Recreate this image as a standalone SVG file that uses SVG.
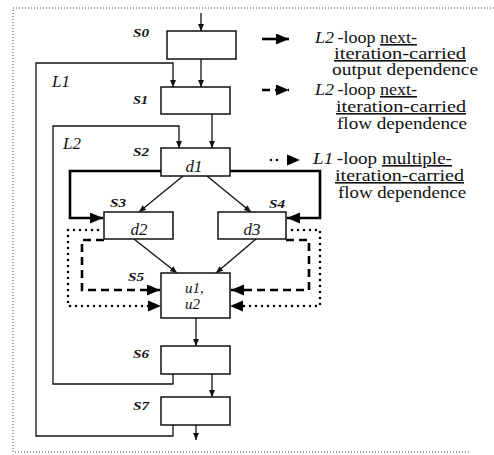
<svg xmlns="http://www.w3.org/2000/svg" width="494" height="455" viewBox="0 0 494 455">
<defs>
<style>
.box{fill:#fff;stroke:#111;stroke-width:1.5}
.thin{fill:none;stroke:#111;stroke-width:1.3}
.thick{fill:none;stroke:#000;stroke-width:2.6}
.dash{fill:none;stroke:#000;stroke-width:2.6;stroke-dasharray:8 5}
.dot{fill:none;stroke:#000;stroke-width:2.6;stroke-dasharray:0 6;stroke-linecap:round}
.lbl{font-family:"Liberation Serif",serif;font-style:italic;font-weight:bold;font-size:13px;fill:#111}
.big{font-family:"Liberation Serif",serif;font-style:italic;font-size:17px;fill:#111}
.in{font-family:"Liberation Serif",serif;font-style:italic;font-size:17px;fill:#111;text-anchor:middle}
.uu{font-family:"Liberation Serif",serif;font-style:italic;font-size:15px;fill:#111}
.leg{font-family:"Liberation Serif",serif;font-size:16px;fill:#111}
.it{font-style:italic}
.u{text-decoration:underline}
.frame{fill:none;stroke:#444;stroke-width:1;stroke-dasharray:1 2}
</style>
<marker id="ah" markerUnits="userSpaceOnUse" markerWidth="8" markerHeight="7" refX="7" refY="3" orient="auto"><path d="M0,0 L7,3 L0,6 z" fill="#111"/></marker>
<marker id="AH" markerUnits="userSpaceOnUse" markerWidth="14" markerHeight="12" refX="13" refY="5.5" orient="auto"><path d="M0,0 L13,5.5 L0,11 z" fill="#000"/></marker>
</defs>
<path class="frame" d="M494,8 H13 V452 H470"/>
<g id="connectors">
<path class="thin" d="M201,13 V31" marker-end="url(#ah)"/>
<path class="thin" d="M201,59 V87" marker-end="url(#ah)"/>
<path class="thin" d="M212,114 V148" marker-end="url(#ah)"/>
<path class="thin" d="M183,176 L139,212" marker-end="url(#ah)"/>
<path class="thin" d="M207,176 L251,212" marker-end="url(#ah)"/>
<path class="thin" d="M134,239 L177,273" marker-end="url(#ah)"/>
<path class="thin" d="M256,239 L216,273" marker-end="url(#ah)"/>
<path class="thin" d="M196,318 V346" marker-end="url(#ah)"/>
<path class="thin" d="M212,374 V397" marker-end="url(#ah)"/>
<path class="thin" d="M196,425 V440" marker-end="url(#ah)"/>
<path class="thin" d="M173,374 V384 H53 V126 H179 V148" marker-end="url(#ah)"/>
<path class="thin" d="M173,425 V436 H36 V63 H173 V87" marker-end="url(#ah)"/>
<path class="thick" d="M161,171 H70 V218 H103" marker-end="url(#AH)"/>
<path class="thick" d="M230,171 H320 V218 H287" marker-end="url(#AH)"/>
<path class="dash" d="M104,240 H82 V290 H160" marker-end="url(#AH)"/>
<path class="dash" d="M286,240 H309 V290 H231" marker-end="url(#AH)"/>
<path class="dot" d="M98,230 H68 V306 H158"/>
<path d="M148,300.5 L161,306 L148,311.5 z" fill="#000"/>
<path class="dot" d="M292,230 H320 V306 H234"/>
<path d="M243,300.5 L230,306 L243,311.5 z" fill="#000"/>
</g>
<g id="S0"><rect class="box" x="167" y="31" width="69" height="28"/><text class="lbl" x="133" y="37" textLength="16" lengthAdjust="spacingAndGlyphs">S0</text></g>
<g id="S1"><rect class="box" x="161" y="87" width="69" height="27"/><text class="lbl" x="133" y="104" textLength="15" lengthAdjust="spacingAndGlyphs">S1</text></g>
<g id="S2"><rect class="box" x="161" y="148" width="69" height="28"/><text class="lbl" x="133" y="156" textLength="16" lengthAdjust="spacingAndGlyphs">S2</text><text class="in" x="194" y="172">d1</text></g>
<g id="S3"><rect class="box" x="104" y="212" width="69" height="27"/><text class="lbl" x="110" y="207" textLength="16" lengthAdjust="spacingAndGlyphs">S3</text><text class="in" x="139" y="235">d2</text></g>
<g id="S4"><rect class="box" x="218" y="212" width="68" height="27"/><text class="lbl" x="269" y="208" textLength="16" lengthAdjust="spacingAndGlyphs">S4</text><text class="in" x="252" y="235">d3</text></g>
<g id="S5"><rect class="box" x="161" y="273" width="69" height="45"/><text class="lbl" x="128" y="281" textLength="16" lengthAdjust="spacingAndGlyphs">S5</text><text class="uu" x="185" y="293">u1,</text><text class="uu" x="185" y="309">u2</text></g>
<g id="S6"><rect class="box" x="161" y="346" width="69" height="28"/><text class="lbl" x="133" y="358" textLength="16" lengthAdjust="spacingAndGlyphs">S6</text></g>
<g id="S7"><rect class="box" x="161" y="397" width="69" height="28"/><text class="lbl" x="133" y="410" textLength="16" lengthAdjust="spacingAndGlyphs">S7</text></g>
<g id="loops"><text class="big" x="52" y="87">L1</text><text class="big" x="63" y="149">L2</text></g>
<g id="legend">
<path class="thick" d="M262,39 H289" marker-end="url(#AH)"/>
<path class="dash" d="M262,90 H289" stroke-dasharray="6 5" marker-end="url(#AH)"/>
<path class="dot" d="M271,160 H283"/>
<path d="M287,154.5 L300,160 L287,165.5 z" fill="#000"/>
<text class="leg" x="315" y="43" textLength="102" lengthAdjust="spacingAndGlyphs"><tspan class="it">L2</tspan><tspan dx="3">-loop </tspan><tspan class="u">next-</tspan></text>
<text class="leg u" x="334" y="59" textLength="132" lengthAdjust="spacingAndGlyphs">iteration-carried</text>
<text class="leg" x="332" y="75" textLength="146" lengthAdjust="spacingAndGlyphs">output dependence</text>
<text class="leg" x="315" y="95" textLength="102" lengthAdjust="spacingAndGlyphs"><tspan class="it">L2</tspan><tspan dx="3">-loop </tspan><tspan class="u">next-</tspan></text>
<text class="leg u" x="336" y="112" textLength="130" lengthAdjust="spacingAndGlyphs">iteration-carried</text>
<text class="leg" x="337" y="129" textLength="130" lengthAdjust="spacingAndGlyphs">flow dependence</text>
<text class="leg" x="313" y="164" textLength="139" lengthAdjust="spacingAndGlyphs"><tspan class="it">L1</tspan><tspan dx="3">-loop </tspan><tspan class="u">multiple-</tspan></text>
<text class="leg u" x="335" y="181" textLength="129" lengthAdjust="spacingAndGlyphs">iteration-carried</text>
<text class="leg" x="338" y="198" textLength="128" lengthAdjust="spacingAndGlyphs">flow dependence</text>
</g>
</svg>
